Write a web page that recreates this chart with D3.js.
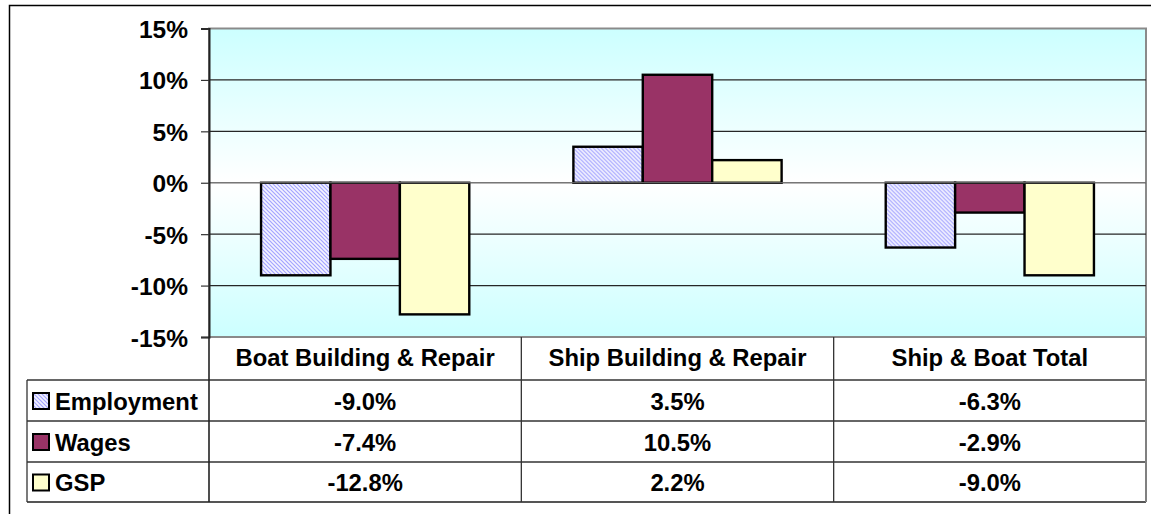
<!DOCTYPE html>
<html>
<head>
<meta charset="utf-8">
<script src="https://cdn.jsdelivr.net/npm/d3@7"></script>
<style>
  html, body { margin: 0; padding: 0; background: #fff; }
  svg { display: block; font-family: Arial, "Liberation Sans", sans-serif; font-weight: bold; }
</style>
</head>
<body>
<svg id="chart" width="1151" height="514"></svg>
<script>
// ---- data ----
const categories = ["Boat Building & Repair", "Ship Building & Repair", "Ship & Boat Total"];
const seriesNames = ["Employment", "Wages", "GSP"];
const employment = [-9.0, 3.5, -6.3];
const wages = [-7.4, 10.5, -2.9];
const gsp = [-12.8, 2.2, -9.0];
const tableLabels = [["-9.0%", "3.5%", "-6.3%"], ["-7.4%", "10.5%", "-2.9%"], ["-12.8%", "2.2%", "-9.0%"]];
const yTicks = [15, 10, 5, 0, -5, -10, -15];

const seriesValues = [employment, wages, gsp];
const fills = ["url(#hatch)", "#993366", "#ffffcc"];

const svg = d3.select("#chart");
const defs = svg.append("defs");

// hatch pattern for Employment
const pat = defs.append("pattern").attr("id", "hatch").attr("patternUnits", "userSpaceOnUse")
  .attr("width", 4).attr("height", 4);
pat.append("rect").attr("width", 4).attr("height", 4).attr("fill", "#f4f4ff");
pat.append("path").attr("d", "M-1,-1 L5,5 M-1,3 L1,5 M3,-1 L5,1")
  .attr("stroke", "#a4a4ff").attr("stroke-width", 1.2);

// background gradient
const grad = defs.append("linearGradient").attr("id", "bg").attr("x1", 0).attr("y1", 0).attr("x2", 0).attr("y2", 1);
grad.append("stop").attr("offset", "0%").attr("stop-color", "#ccffff");
grad.append("stop").attr("offset", "50%").attr("stop-color", "#ffffff");
grad.append("stop").attr("offset", "100%").attr("stop-color", "#ccffff");

// outer frame (extends past the picture on right/bottom)
svg.append("rect").attr("x", 9.5).attr("y", 5.5).attr("width", 1300).attr("height", 700)
  .attr("fill", "none").attr("stroke", "#000").attr("stroke-width", 1.5);

const pLeft = 209, pRight = 1146, pTop = 28.5, pBottom = 337;
const x = d3.scaleBand().domain(categories).range([pLeft, pRight]).paddingInner(0).paddingOuter(0);
const xs = d3.scaleBand().domain(seriesNames).range([0, x.bandwidth()]).paddingInner(0).paddingOuter(0.75);
const y = d3.scaleLinear().domain([-15, 15]).range([pBottom, pTop]);

// plot area
svg.append("rect").attr("x", pLeft).attr("y", pTop).attr("width", pRight - pLeft).attr("height", pBottom - pTop)
  .attr("fill", "url(#bg)").attr("stroke", "#8a8a8a").attr("stroke-width", 2);

// gridlines
svg.append("g").selectAll("line").data(yTicks.filter(t => t !== 15 && t !== -15)).join("line")
  .attr("x1", pLeft).attr("x2", pRight).attr("y1", d => y(d)).attr("y2", d => y(d))
  .attr("stroke", "#262626").attr("stroke-width", 1.2);

// bars
const groups = svg.append("g").selectAll("g").data(categories).join("g")
  .attr("transform", d => `translate(${x(d)},0)`);
groups.each(function(cat, ci) {
  d3.select(this).selectAll("rect").data(seriesNames).join("rect")
    .attr("x", s => xs(s))
    .attr("width", xs.bandwidth())
    .attr("y", (s, si) => y(Math.max(0, seriesValues[si][ci])))
    .attr("height", (s, si) => Math.abs(y(seriesValues[si][ci]) - y(0)))
    .attr("fill", (s, si) => fills[si])
    .attr("stroke", "#000").attr("stroke-width", 2.4);
});

// zero line (category axis)
svg.append("line").attr("x1", pLeft).attr("x2", pRight).attr("y1", y(0)).attr("y2", y(0))
  .attr("stroke", "#808080").attr("stroke-width", 1.2);

// y axis
const yAxis = svg.append("g").attr("transform", `translate(${pLeft},0)`)
  .call(d3.axisLeft(y).tickValues(yTicks).tickSize(8).tickPadding(13).tickFormat(d => d + "%"));
yAxis.select(".domain").attr("stroke", "#222").attr("stroke-width", 2);
yAxis.selectAll(".tick line").attr("stroke", "#333").attr("stroke-width", 1.2);
yAxis.selectAll(".tick text").attr("font-size", 24.5).attr("font-weight", "bold")
  .attr("font-family", "Arial, 'Liberation Sans', sans-serif").attr("fill", "#000").attr("dy", "0.37em");

// ---- data table ----
const tableLeft = 27, tableBottom = 502;
const rowTops = [337, 380, 421, 462];
const rowBottoms = [380, 421, 462, 502];
const tg = svg.append("g");
const lineColor = "#333";
const fs = 23.8;

[380, 421, 462].forEach(yy => {
  tg.append("line").attr("x1", tableLeft).attr("x2", pRight).attr("y1", yy).attr("y2", yy)
    .attr("stroke", lineColor).attr("stroke-width", 1.3);
});
tg.append("line").attr("x1", tableLeft).attr("x2", pRight).attr("y1", tableBottom).attr("y2", tableBottom)
  .attr("stroke", "#555").attr("stroke-width", 1.8);
tg.append("line").attr("x1", tableLeft).attr("x2", tableLeft).attr("y1", 380).attr("y2", tableBottom)
  .attr("stroke", lineColor).attr("stroke-width", 1.3);
categories.forEach((c, i) => {
  const xx = x(c);
  tg.append("line").attr("x1", xx).attr("x2", xx).attr("y1", pBottom).attr("y2", tableBottom)
    .attr("stroke", i === 0 ? "#222" : lineColor).attr("stroke-width", i === 0 ? 1.6 : 1.3);
});
tg.append("line").attr("x1", pRight).attr("x2", pRight).attr("y1", pBottom).attr("y2", tableBottom)
  .attr("stroke", "#808080").attr("stroke-width", 2);

tg.selectAll("text.hdr").data(categories).join("text").attr("class", "hdr")
  .attr("x", d => x(d) + x.bandwidth() / 2).attr("y", 366)
  .attr("text-anchor", "middle").attr("font-size", fs).text(d => d);

seriesNames.forEach((s, si) => {
  const rt = rowTops[si + 1], rb = rowBottoms[si + 1];
  const cy = (rt + rb) / 2;
  tg.append("rect").attr("x", 33).attr("y", cy - 7.5).attr("width", 16).attr("height", 16)
    .attr("fill", fills[si]).attr("stroke", "#000").attr("stroke-width", 2);
  tg.append("text").attr("x", 55).attr("y", cy + 9).attr("font-size", fs).text(s);
  tg.selectAll(null).data(categories).join("text")
    .attr("x", d => x(d) + x.bandwidth() / 2).attr("y", cy + 9)
    .attr("text-anchor", "middle").attr("font-size", fs)
    .text((d, ci) => tableLabels[si][ci]);
});
</script>
</body>
</html>
